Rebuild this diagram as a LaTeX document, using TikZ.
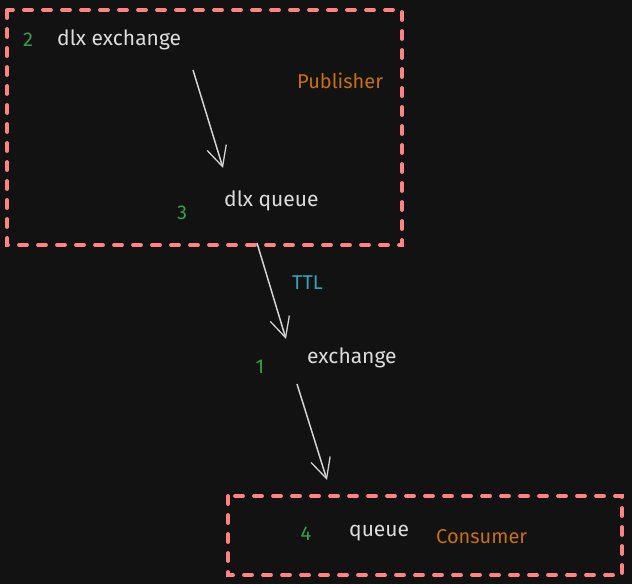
\documentclass[tikz,border=0pt]{standalone}
\usepackage{fontspec}
\setmainfont{Fira Sans}
\usetikzlibrary{arrows.meta}
\usetikzlibrary{positioning}

\definecolor{bgdark}{HTML}{121212}
\definecolor{boxpink}{HTML}{FF8383}
\definecolor{stepgreen}{HTML}{36A048}
\definecolor{roleorange}{HTML}{C8700A}
\definecolor{ttlblue}{HTML}{38A0B4}
\definecolor{textgray}{HTML}{DCDCDC}
\definecolor{arrowgray}{HTML}{D2D2D2}

\tikzset{
    groupbox/.style={draw=boxpink, line width=3.8pt, line cap=round, dash pattern=on 8pt off 11pt},
    label/.style={text=textgray, font=\fontsize{21}{24}\selectfont, inner sep=0pt, anchor=west},
    stepnum/.style={text=stepgreen, font=\fontsize{20}{24}\selectfont, inner sep=0pt},
    role/.style={text=roleorange, font=\fontsize{20}{24}\selectfont, inner sep=0pt, anchor=west},
    flow/.style={draw=arrowgray, line width=1.5pt, -{Straight Barb[length=20pt, width=20pt, line width=1.3pt]}}
}

\begin{document}
\begin{tikzpicture}[x=1pt, y=-1pt]
        % Background
        \fill[bgdark] (0,0) rectangle (632,584);
        \useasboundingbox (0,0) rectangle (632,584);

        % Publisher group
        \draw[groupbox] (7,10) rectangle (402,245);
        \node[role] (publisher) at (297,81) {Publisher};
        \node[stepnum] (n2) at (28,40) {2};
        \node[label] (dlxex) at (57,40) {dlx exchange};
        \node[stepnum] (n3) at (182,213) {3};
        \node[label] (dlxq) at (224,201) {dlx queue};

        % Main exchange
        \node[label] (ex) at (307,358) {exchange};
        \node[stepnum] (n1) at (260,367) {1};
        \node[text=ttlblue, font=\fontsize{20}{24}\selectfont, inner sep=0pt, anchor=west] (ttl) at (292,283) {TTL};

        % Consumer group
        \draw[groupbox] (228,496) rectangle (622,575);
        \node[stepnum] (n4) at (306,534) {4};
        \node[label] (q) at (349,533) {queue};
        \node[role] (consumer) at (436,537) {Consumer};

        % Arrow end points
        \coordinate (a1s) at (193,70);  \coordinate (a1e) at (223,168);
        \coordinate (a2s) at (257,243); \coordinate (a2e) at (286,339);
        \coordinate (a3s) at (297,384); \coordinate (a3e) at (327,480);

        % Flow
        \draw[flow] (a1s) -- (a1e); % dlx exchange -> dlx queue
        \draw[flow] (a2s) -- (a2e); % dlx queue -> exchange
        \draw[flow] (a3s) -- (a3e); % exchange -> queue
    \end{tikzpicture}
\end{document}
